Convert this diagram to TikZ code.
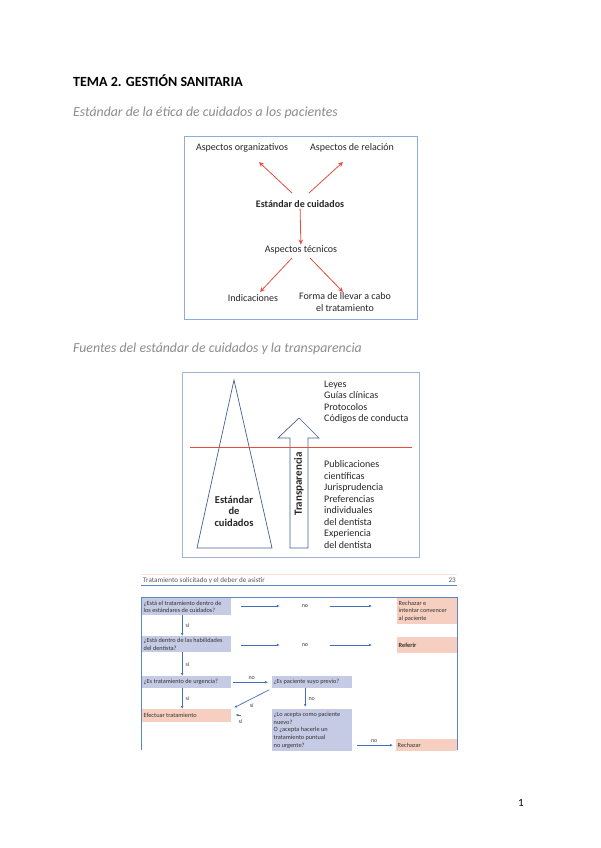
\documentclass[tikz,border=0pt]{standalone}
\usepackage{fontspec}
\setmainfont{Carlito}
\usetikzlibrary{arrows.meta,positioning}

\definecolor{subgray}{HTML}{8C8C8C}
\definecolor{boxblue}{HTML}{8FAADC}
\definecolor{boxgray}{HTML}{A3B4D6}
\definecolor{arrowred}{HTML}{E84C3D}
\definecolor{shapeblue}{HTML}{44618F}
\definecolor{qfill}{HTML}{C5CBE4}
\definecolor{afill}{HTML}{F7CFC0}
\definecolor{flowblue}{HTML}{4470B8}
\definecolor{frameblue}{HTML}{5E86C6}

\begin{document}
\begin{tikzpicture}
[
	x=1pt,y=-1pt,
	heading/.style={anchor=base west,inner sep=0pt,font=\fontsize{14}{16}\selectfont\bfseries},
	subheading/.style={anchor=base west,inner sep=0pt,text=subgray,font=\fontsize{13.8}{16}\selectfont\itshape},
	aspect/.style={align=center,inner sep=1pt,text=black!85,font=\fontsize{10}{12}\selectfont},
	redarrow/.style={draw=arrowred,line width=0.8pt,-{Stealth[length=5pt,width=4.5pt]}},
	source/.style={anchor=north west,align=left,inner sep=0pt,text=black!85,font=\fontsize{10}{11.5}\selectfont},
	qbox/.style={fill=qfill,anchor=north west,inner sep=1.5pt,align=flush left,text=black!80,font=\fontsize{6.3}{7.6}\selectfont},
	abox/.style={qbox,fill=afill},
	flow/.style={draw=flowblue,line width=0.7pt,-{Latex[length=3pt,width=2.6pt]}},
	tag/.style={inner sep=1pt,text=black!75,font=\fontsize{6}{7}\selectfont}
]

	\useasboundingbox[fill=white] (0,0) rectangle (600,848);

	% titles
	\node[heading] (tema) at (73,87) {TEMA 2. GESTIÓN SANITARIA};
	\node[subheading] (etica) at (73,117) {Estándar de la ética de cuidados a los pacientes};
	\node[subheading] (fuentes) at (73,352) {Fuentes del estándar de cuidados y la transparencia};

	% first picture: standard of care
	\draw[boxblue,line width=0.9pt] (184,136) rectangle (417,319);

	\node[aspect] (organiz) at (242,148) {Aspectos organizativos};
	\node[aspect] (relacion) at (352,148) {Aspectos de relación};
	\node[aspect,font=\fontsize{10}{12}\selectfont\bfseries] (estandar) at (300,204) {Estándar de cuidados};
	\node[aspect] (tecnicos) at (301,250) {Aspectos técnicos};
	\node[aspect] (indic) at (253,298) {Indicaciones};
	\node[aspect,anchor=north] (forma) at (345,291) {Forma de llevar a cabo\\el tratamiento};

	\draw[redarrow] (292,193) -- (259,162);
	\draw[redarrow] (309,193) -- (343,162);
	\draw[redarrow] (estandar) -- (tecnicos);
	\draw[redarrow] (292,258) -- (260,292);
	\draw[redarrow] (310,258) -- (343,292);

	% second picture: sources and transparency
	\draw[boxgray,line width=0.8pt] (182,372) rectangle (419,557);

	\draw[shapeblue,line width=0.7pt] (234,380) -- (272,548) -- (197,548) -- cycle;
	\draw[shapeblue,line width=0.7pt]
	  (290,548) -- (290,438) -- (278,438) -- (299,418)
	  -- (319,438) -- (308,438) -- (308,548) -- cycle;
	\draw[color=arrowred,line width=1.1pt] (190,447.5) -- (412,447.5);

	\node[align=center,inner sep=0pt,text=black!85,font=\fontsize{10.5}{11.5}\selectfont\bfseries] (cuidados) at (234,511) {Estándar\\de\\cuidados};
	\node[rotate=90,inner sep=0pt,text=black!85,font=\fontsize{11}{13}\selectfont\bfseries] (transp) at (299,484) {Transparencia};

	\node[source] (normas) at (324,380.5) {Leyes\\Guías clínicas\\Protocolos\\Códigos de conducta};
	\node[source] (ciencia) at (324,460.5) {Publicaciones\\científicas\\Jurisprudencia\\Preferencias\\individuales\\del dentista\\Experiencia\\del dentista};

	% third picture: requested treatment and duty of care
	\draw[afill!60,line width=0.5pt] (141,574) -- (457,574);
	\node[anchor=base west,inner sep=0pt,text=black!65,font=\fontsize{7.1}{8}\selectfont] (cabecera) at (143,582) {Tratamiento solicitado y el deber de asistir};
	\node[anchor=base east,inner sep=0pt,text=black!65,font=\fontsize{7.1}{8}\selectfont] (pagina) at (456,582) {23};
	\draw[frameblue,line width=0.5pt] (141,585) -- (457,585);
	\draw[frameblue,line width=0.6pt] (141,750) -- (141,597) -- (457,597) -- (457,750);

	\node[qbox,minimum width=89pt,minimum height=17pt,text width=86pt] (q1) at (142,598) {¿Está el tratamiento dentro de\\los estándares de cuidados?};
	\node[abox,minimum width=60pt,minimum height=26pt,text width=57pt] (rech1) at (397,598) {Rechazar e\\intentar convencer\\al paciente};
	\node[qbox,minimum width=89pt,minimum height=16pt,text width=86pt] (q2) at (142,636) {¿Está dentro de las habilidades\\del dentista?};
	\node[abox,minimum width=60pt,minimum height=16pt,text width=57pt,font=\fontsize{6.3}{7.6}\selectfont\bfseries] (referir) at (397,637) {Referir};
	\node[qbox,minimum width=89pt,minimum height=12pt,text width=86pt] (q3) at (142,676) {¿Es tratamiento de urgencia?};
	\node[qbox,minimum width=80pt,minimum height=12pt,text width=77pt] (q4) at (272,676) {¿Es paciente suyo previo?};
	\node[abox,minimum width=89pt,minimum height=13pt,text width=86pt] (effect) at (142,709) {Efectuar tratamiento};
	\node[qbox,minimum width=80pt,minimum height=42pt,text width=77pt] (q5) at (272,709) {¿Lo acepta como paciente\\nuevo?\\O ¿acepta hacerle un\\tratamiento puntual\\no urgente?};
	\node[abox,minimum width=61pt,minimum height=12pt,text width=58pt] (rech2) at (396,739) {Rechazar};

	\node[tag,minimum width=50pt] (no1) at (305,606) {no};
	\node[tag,minimum width=50pt] (no2) at (305,645) {no};
	\coordinate (sistub) at (241,715);

	\draw[flow,shorten <=10pt] (q1.east |- no1) -- (no1.west);
	\draw[flow,shorten >=25pt] (no1.east) -- (rech1.west |- no1);
	\draw[flow,shorten <=10pt] (q2.east |- no2) -- (no2.west);
	\draw[flow,shorten >=25pt] (no2.east) -- (referir.west |- no2);

	\draw[flow] ([xshift=-4.5pt]q1.south) -- node[tag,right=2pt] {sí} ([xshift=-4.5pt]q2.north);
	\draw[flow] ([xshift=-4.5pt]q2.south) -- node[tag,right=2pt] {sí} ([xshift=-4.5pt]q3.north);
	\draw[flow] ([xshift=-4.5pt]q3.south) -- node[tag,right=2pt] {sí} ([xshift=-4.5pt]effect.north);

	\draw[flow,shorten <=2pt,shorten >=4pt] (q3.east) -- node[tag,above=1pt] {no} (q4.west);
	\draw[flow,shorten >=2pt] ([xshift=-7pt]q4.south) -- node[tag,right=2pt] {no} ([xshift=-7pt]q5.north);
	\draw[flow,shorten <=3pt,shorten >=3pt] (q4.south west) -- node[tag,below=3pt] {sí} (effect.north east);
	\draw[flow,shorten >=4pt] (sistub) -- node[tag,below right=3pt and 1pt] {sí} (effect.east |- sistub);
	\draw[flow,shorten <=5pt,shorten >=3pt] (q5.east |- rech2) -- node[tag,above=1pt] {no} (rech2.west);

	% page number
	\node[inner sep=0pt,font=\fontsize{11}{13}\selectfont] (numpag) at (521,803) {1};

\end{tikzpicture}
\end{document}
